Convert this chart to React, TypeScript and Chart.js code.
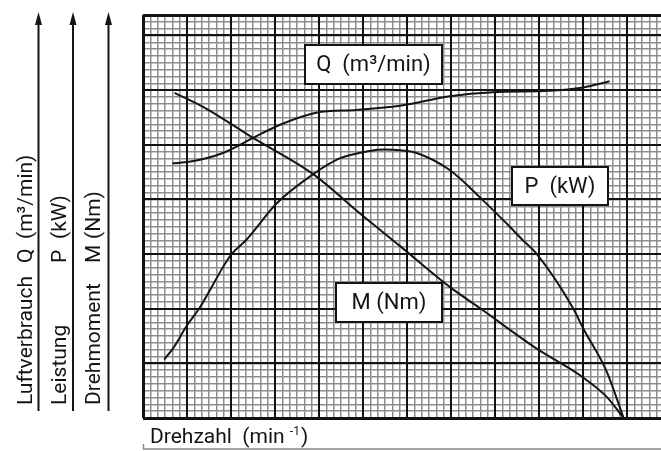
import React, { useEffect, useRef } from 'react';
import { Chart, registerables } from 'chart.js';

Chart.register(...registerables);

// Axis extents, in minor grid cells (x: 6 cells per major, y: 8 cells per major)
const X_MAX = 70.6;
const Y_MAX = 59;
const X_MAJOR_EVERY = 6;
const Y_MAJOR_EVERY = 8;

// Q – Luftverbrauch (m³/min)
const qSpeed = [4.0, 6.3, 10.9, 15.0, 18.6, 23.6, 29.1, 35.0, 41.8, 47.7, 55.4, 60.0, 63.6];
const qFlow = [37.3, 37.5, 38.8, 41.0, 42.9, 44.7, 45.1, 45.7, 47.1, 47.7, 47.9, 48.4, 49.3];

// M – Drehmoment (Nm)
const mSpeed = [4.3, 8.6, 15.0, 23.2, 29.5, 35.0, 41.8, 45.9, 53.6, 59.5, 63.2, 65.5];
const mTorque = [47.6, 45.3, 41.0, 35.7, 30.0, 25.2, 19.2, 16.1, 10.2, 6.3, 3.1, 0];

// P – Leistung (kW)
const pSpeed = [2.9, 4.1, 5.9, 7.7, 12.0, 14.1, 18.2, 23.2, 26.8, 30.9, 32.9, 35.0, 37.3, 41.8, 46.3, 50.0, 51.7, 53.6, 58.6, 60.0, 63.2, 65.5];
const pPower = [8.6, 10.2, 13.4, 16.1, 23.9, 26.1, 31.4, 35.7, 38.0, 39.1, 39.3, 39.2, 38.8, 36.3, 31.9, 28.0, 26.1, 24.1, 16.1, 13.1, 6.8, 0];

// Texts
const yLabelWords = ['Luftverbrauch', 'Leistung', 'Drehmoment'];
const yLabelSymbols = ['Q', 'P', 'M'];
const yLabelUnits = ['(m³/min)', '(kW)', '(Nm)'];
const xLabel = 'Drehzahl  (min ';
const xLabelSup = '-1';
const boxLabels = ['Q  (m³/min)', 'P  (kW)', 'M (Nm)'];

const FONT = 'Roboto, "Open Sans", sans-serif';
const INK = '#141414';

function stepTicks(max: number, step: number) {
  const t: { value: number }[] = [];
  for (let v = 0; v <= max + 1e-9; v += step) t.push({ value: v });
  return t;
}

const toPts = (xs: number[], ys: number[]) => xs.map((x, i) => ({ x, y: ys[i] }));

const overlayPlugin = {
  id: 'overlay',
  afterDraw(chart: any) {
    const ctx: CanvasRenderingContext2D = chart.ctx;
    ctx.save();
    ctx.fillStyle = INK;
    ctx.strokeStyle = INK;

    // Left: three upward arrows with rotated labels
    const arrowX = [38.5, 73, 108.5];
    const baseX = [32, 65.5, 100];
    arrowX.forEach((ax, i) => {
      ctx.lineWidth = 2;
      ctx.beginPath();
      ctx.moveTo(ax, 411);
      ctx.lineTo(ax, 22);
      ctx.stroke();
      ctx.beginPath();
      ctx.moveTo(ax, 12);
      ctx.lineTo(ax - 3.5, 25);
      ctx.lineTo(ax + 3.5, 25);
      ctx.closePath();
      ctx.fill();

      const pieces: [string, number][] = [
        [yLabelWords[i], 405],
        [yLabelSymbols[i], 263],
        [yLabelUnits[i], 239],
      ];
      ctx.font = `21px ${FONT}`;
      ctx.textBaseline = 'alphabetic';
      ctx.textAlign = 'left';
      pieces.forEach(([txt, y]) => {
        ctx.save();
        ctx.translate(baseX[i], y);
        ctx.rotate(-Math.PI / 2);
        ctx.fillText(txt, 0, 0);
        ctx.restore();
      });
    });

    // Bottom: axis label with superscript and thin guide line
    ctx.font = `21px ${FONT}`;
    ctx.textAlign = 'left';
    ctx.textBaseline = 'alphabetic';
    let x = 150;
    ctx.fillText(xLabel, x, 443);
    x += ctx.measureText(xLabel).width;
    ctx.font = `12px ${FONT}`;
    ctx.fillText(xLabelSup, x, 435);
    x += ctx.measureText(xLabelSup).width + 1;
    ctx.font = `21px ${FONT}`;
    ctx.fillText(')', x, 443);

    ctx.strokeStyle = '#8a8a8a';
    ctx.lineWidth = 1.5;
    ctx.beginPath();
    ctx.moveTo(143.5, 444);
    ctx.lineTo(143.5, 449);
    ctx.lineTo(661, 449);
    ctx.stroke();

    // Annotation boxes on the grid
    const boxes: [number, number, number, number][] = [
      [305, 45, 137, 39],
      [512, 167, 96, 38],
      [336, 283, 106, 39],
    ];
    boxes.forEach(([bx, by, bw, bh], i) => {
      ctx.fillStyle = '#ffffff';
      ctx.fillRect(bx, by, bw, bh);
      ctx.strokeStyle = INK;
      ctx.lineWidth = 2;
      ctx.strokeRect(bx, by, bw, bh);
      ctx.fillStyle = INK;
      ctx.font = `22px ${FONT}`;
      ctx.textAlign = 'center';
      ctx.textBaseline = 'middle';
      ctx.fillText(boxLabels[i], bx + bw / 2, by + bh / 2 + 1);
    });

    ctx.restore();
  },
};

const MINOR = '#8e8e8e';
const MAJOR = '#121212';

export default function App() {
  const ref = useRef<HTMLCanvasElement>(null);

  useEffect(() => {
    const lineStyle = {
      borderColor: INK,
      borderWidth: 2,
      pointRadius: 0,
      fill: false,
      cubicInterpolationMode: 'monotone' as const,
    };
    const chart = new Chart(ref.current!, {
      type: 'line',
      data: {
        datasets: [
          { label: 'Q', data: toPts(qSpeed, qFlow), ...lineStyle },
          { label: 'P', data: toPts(pSpeed, pPower), ...lineStyle },
          { label: 'M', data: toPts(mSpeed, mTorque), ...lineStyle },
        ],
      },
      options: {
        animation: false,
        responsive: false,
        devicePixelRatio: 1,
        layout: { padding: { left: 143, top: 15, right: 0, bottom: 33 } },
        plugins: { legend: { display: false }, tooltip: { enabled: false } },
        scales: {
          x: {
            type: 'linear',
            position: 'bottom',
            min: 0,
            max: X_MAX,
            ticks: { display: false },
            border: { display: false },
            grid: { drawTicks: false, color: MINOR, lineWidth: 1.5, z: -2 },
            afterBuildTicks: (s: any) => {
              s.ticks = stepTicks(70, 1);
            },
          },
          y: {
            type: 'linear',
            position: 'left',
            min: 0,
            max: Y_MAX,
            ticks: { display: false },
            border: { display: false },
            grid: { drawTicks: false, color: MINOR, lineWidth: 1.5, z: -2 },
            afterBuildTicks: (s: any) => {
              s.ticks = stepTicks(Y_MAX, 1);
            },
          },
          xMajor: {
            type: 'linear',
            position: 'bottom',
            min: 0,
            max: X_MAX,
            ticks: { display: false },
            border: { display: false },
            grid: {
              drawTicks: false,
              color: MAJOR,
              lineWidth: (c: any) => (c.tick && c.tick.value === 0 ? 3 : 2),
              z: -1,
            },
            afterBuildTicks: (s: any) => {
              s.ticks = stepTicks(66, X_MAJOR_EVERY);
            },
          },
          yMajor: {
            type: 'linear',
            position: 'left',
            min: 0,
            max: Y_MAX,
            ticks: { display: false },
            border: { display: false },
            grid: {
              drawTicks: false,
              color: MAJOR,
              lineWidth: (c: any) =>
                c.tick && (c.tick.value === 0 || c.tick.value === Y_MAX) ? 3 : 2,
              z: -1,
            },
            afterBuildTicks: (s: any) => {
              s.ticks = [...stepTicks(56, Y_MAJOR_EVERY), { value: Y_MAX }];
            },
          },
        },
      },
      plugins: [overlayPlugin],
    } as any);
    return () => chart.destroy();
  }, []);

  return (
    <div style={{ position: 'absolute', left: 0, top: 0, width: 661, height: 451, background: '#fff' }}>
      <canvas ref={ref} width={661} height={451} style={{ display: 'block', width: 661, height: 451 }} />
    </div>
  );
}
